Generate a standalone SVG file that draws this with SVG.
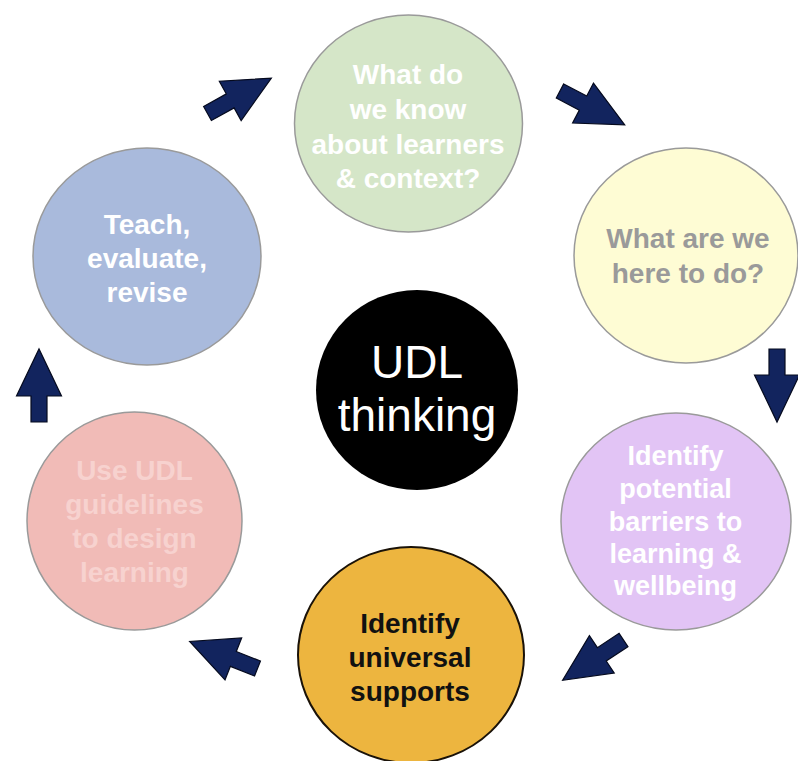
<svg xmlns="http://www.w3.org/2000/svg" width="798" height="761" viewBox="0 0 798 761">
<style>
.node{stroke:#9a9a9a;stroke-width:1.5}
.t{font-family:"Liberation Sans",Arial,sans-serif;font-weight:bold;font-size:28px;text-anchor:middle}
.c{font-family:"Liberation Sans",Arial,sans-serif;font-size:46px;text-anchor:middle;fill:#fff}
.arr{fill:#12245e;stroke:#050a1e;stroke-width:1.2;stroke-linejoin:miter}
</style>
<defs>
<polygon id="arrow" points="0,-8 26,-8 26,-22.5 73,0 26,22.5 26,8 0,8"/>
</defs>
<rect width="798" height="761" fill="#fff"/>
<g id="connectors">
<use href="#arrow" class="arr" transform="translate(207.5,113.5) rotate(-29)"/>
<use href="#arrow" class="arr" transform="translate(560,91) rotate(27.6)"/>
<use href="#arrow" class="arr" transform="translate(777,349) rotate(90)"/>
<use href="#arrow" class="arr" transform="translate(623.5,640) rotate(146.5)"/>
<use href="#arrow" class="arr" transform="translate(257.5,668.5) rotate(201.7)"/>
<use href="#arrow" class="arr" transform="translate(39,422) rotate(-90)"/>
</g>
<g id="node-know">
<ellipse class="node" cx="408.5" cy="123.5" rx="114" ry="108.5" fill="#d5e6c8"/>
<text class="t" fill="#fff" x="408" y="84">What do</text>
<text class="t" fill="#fff" x="408" y="119">we know</text>
<text class="t" fill="#fff" x="408" y="154">about learners</text>
<text class="t" fill="#fff" x="408" y="188">&amp; context?</text>
</g>
<g id="node-here">
<ellipse class="node" cx="686" cy="255.5" rx="112" ry="107.5" fill="#fefcd4"/>
<text class="t" fill="#9a9a9a" x="688" y="248">What are we</text>
<text class="t" fill="#9a9a9a" x="688" y="283">here to do?</text>
</g>
<g id="node-barriers">
<ellipse class="node" cx="676" cy="521.5" rx="115" ry="108.5" fill="#e2c4f5"/>
<text class="t" fill="#fff" x="675.5" y="465" style="font-size:27px">Identify</text>
<text class="t" fill="#fff" x="675.5" y="498" style="font-size:27px">potential</text>
<text class="t" fill="#fff" x="675.5" y="531" style="font-size:27px">barriers to</text>
<text class="t" fill="#fff" x="675.5" y="563" style="font-size:27px">learning &amp;</text>
<text class="t" fill="#fff" x="675.5" y="595" style="font-size:27px">wellbeing</text>
</g>
<g id="node-supports">
<ellipse cx="411" cy="655" rx="113" ry="108" fill="#edb53f" stroke="#1a1208" stroke-width="2"/>
<text class="t" fill="#111" x="410" y="633">Identify</text>
<text class="t" fill="#111" x="410" y="667">universal</text>
<text class="t" fill="#111" x="410" y="701">supports</text>
</g>
<g id="node-design">
<ellipse class="node" cx="134.5" cy="521" rx="107.5" ry="109" fill="#f1bbb7"/>
<text class="t" fill="#f7d2cf" x="134.5" y="480">Use UDL</text>
<text class="t" fill="#f7d2cf" x="134.5" y="514">guidelines</text>
<text class="t" fill="#f7d2cf" x="134.5" y="548">to design</text>
<text class="t" fill="#f7d2cf" x="134.5" y="582">learning</text>
</g>
<g id="node-teach">
<ellipse class="node" cx="147" cy="256.5" rx="114" ry="108.5" fill="#a9badc"/>
<text class="t" fill="#fff" x="147" y="234">Teach,</text>
<text class="t" fill="#fff" x="147" y="268">evaluate,</text>
<text class="t" fill="#fff" x="147" y="302">revise</text>
</g>
<g id="node-udl">
<ellipse cx="417" cy="390" rx="101" ry="100" fill="#000"/>
<text class="c" x="417" y="378">UDL</text>
<text class="c" x="417" y="431">thinking</text>
</g>
</svg>
